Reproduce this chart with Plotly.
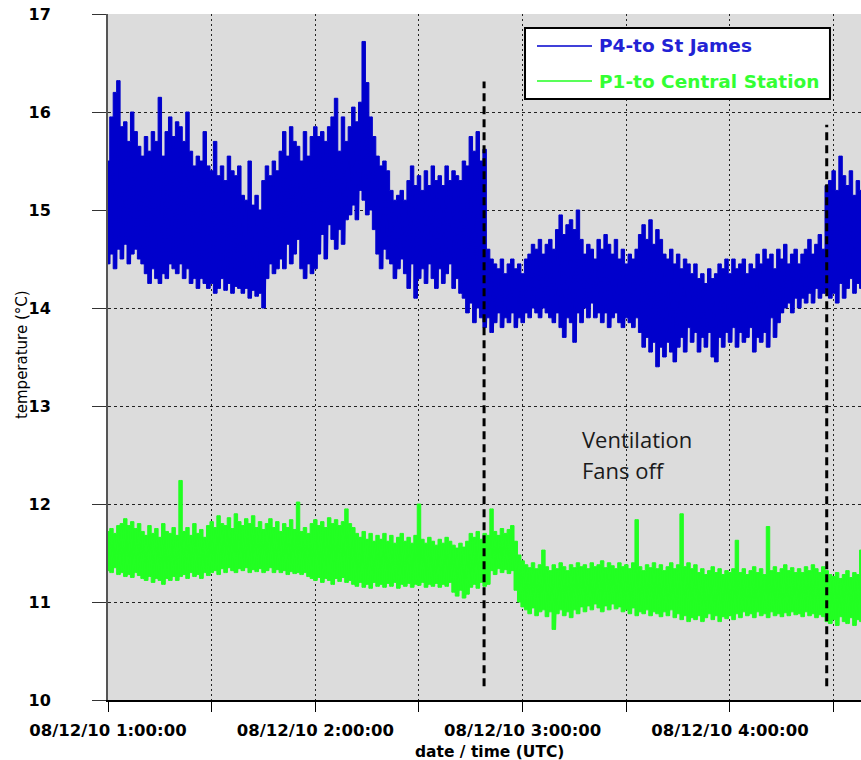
import datetime as dt
import plotly.graph_objects as go

START = dt.datetime(2010, 8, 12, 1, 0, 0)

# Per-minute upper / lower readings of the temperature trace (deg C), from 1:00:00 on
p4_hi = [
    15.50, 15.95, 16.20, 16.32, 15.85, 15.90, 15.70, 16.00, 15.80, 15.65,
    15.55, 15.75, 15.60, 15.80, 15.70, 16.15, 15.55, 15.80, 15.95, 15.75,
    15.90, 15.85, 15.70, 16.00, 15.60, 15.45, 15.55, 15.50, 15.80, 15.45,
    15.40, 15.70, 15.35, 15.45, 15.30, 15.55, 15.40, 15.35, 15.45, 15.15,
    15.10, 15.50, 15.05, 15.15, 15.00, 15.30, 15.45, 15.35, 15.50, 15.40,
    15.60, 15.80, 15.55, 15.85, 15.70, 15.65, 15.50, 15.80, 15.55, 15.75,
    15.85, 15.75, 15.80, 15.70, 15.85, 15.95, 16.14, 15.60, 15.95, 15.70,
    15.85, 16.05, 15.90, 16.10, 16.72, 16.30, 15.95, 15.75, 15.55, 15.45,
    15.50, 15.40, 15.20, 15.10, 15.15, 15.20, 15.10, 15.30, 15.45, 15.25,
    15.35, 15.20, 15.40, 15.25, 15.45, 15.30, 15.35, 15.25, 15.45, 15.30,
    15.40, 15.35, 15.30, 15.50, 15.45, 15.75, 15.60, 15.80, 15.50, 15.62,
    14.60, 14.50, 14.45, 14.40, 14.50, 14.35, 14.45, 14.50, 14.40, 14.45,
    14.35, 14.50, 14.55, 14.65, 14.60, 14.70, 14.55, 14.65, 14.70, 14.60,
    14.80, 14.95, 14.75, 14.85, 14.90, 14.80, 15.00, 14.70, 14.55, 14.65,
    14.60, 14.50, 14.70, 14.60, 14.75, 14.65, 14.55, 14.70, 14.50, 14.60,
    14.45, 14.55, 14.50, 14.60, 14.75, 14.85, 14.70, 14.90, 14.65, 14.80,
    14.70, 14.55, 14.50, 14.60, 14.45, 14.55, 14.40, 14.50, 14.45, 14.35,
    14.45, 14.30, 14.35, 14.25, 14.40, 14.30, 14.35, 14.45, 14.40, 14.50,
    14.35, 14.50, 14.40, 14.45, 14.50, 14.35, 14.45, 14.40, 14.55, 14.45,
    14.60, 14.50, 14.55, 14.40, 14.60, 14.50, 14.65, 14.45, 14.55, 14.60,
    14.45, 14.55, 14.60, 14.70, 14.55, 14.65, 14.75, 14.60, 15.25, 15.30,
    15.40, 15.20, 15.55, 15.35, 15.25, 15.40, 15.15, 15.30, 15.20,
]
p4_lo = [
    14.45, 14.55, 14.40, 14.60, 14.50, 14.65, 14.45, 14.55, 14.60, 14.50,
    14.45, 14.35, 14.25, 14.40, 14.30, 14.25, 14.35, 14.30, 14.45, 14.40,
    14.35, 14.45, 14.30, 14.40, 14.25, 14.30, 14.20, 14.30, 14.25, 14.20,
    14.25, 14.15, 14.20, 14.30, 14.18, 14.25, 14.15, 14.22, 14.20, 14.15,
    14.20, 14.10, 14.18, 14.12, 14.15, 14.00, 14.30, 14.45, 14.35, 14.40,
    14.50, 14.40, 14.65, 14.45, 14.55, 14.70, 14.40, 14.30, 14.45, 14.35,
    14.40, 14.55, 14.75, 14.50, 14.85, 14.70, 14.60, 14.80, 14.65, 14.90,
    14.95, 15.05, 14.90, 15.20, 15.10, 14.95, 15.00, 14.80, 14.55, 14.40,
    14.60, 14.50, 14.45, 14.30, 14.40, 14.50, 14.35, 14.20, 14.45, 14.10,
    14.30, 14.40, 14.25, 14.45, 14.30, 14.20, 14.40, 14.25, 14.35, 14.45,
    14.20, 14.30, 14.15, 14.10, 13.95, 14.05, 13.85, 14.00, 13.90, 13.80,
    13.90, 13.75, 13.85, 13.95, 13.80, 13.90, 13.85, 13.95, 13.80, 13.90,
    13.85, 13.95, 13.90, 14.00, 13.95, 13.90, 14.00, 13.95, 13.90, 13.85,
    13.95, 13.80, 13.70, 13.90, 13.85, 13.65, 13.95, 13.85, 14.00, 13.90,
    14.05, 13.90, 13.95, 13.85, 13.95, 13.80, 13.90, 13.95, 13.85, 13.80,
    13.90, 13.85, 13.80, 13.90, 13.75, 13.60, 13.70, 13.55, 13.65, 13.40,
    13.60, 13.50, 13.65, 13.55, 13.45, 13.60, 13.70, 13.55, 13.80, 13.65,
    13.75, 13.55, 13.70, 13.60, 13.75, 13.50, 13.45, 13.70, 13.60, 13.75,
    13.65, 13.80, 13.60, 13.75, 13.65, 13.70, 13.80, 13.55, 13.70, 13.65,
    13.75, 13.60, 13.90, 13.70, 13.85, 13.95, 14.00, 14.05, 13.95, 14.10,
    14.00, 14.10, 14.05, 14.15, 14.05, 14.20, 14.10, 14.15, 14.20, 14.10,
    14.15, 14.05, 14.25, 14.10, 14.20, 14.30, 14.15, 14.25, 14.20,
]
p1_hi = [
    11.72, 11.75, 11.70, 11.78, 11.80, 11.85, 11.78, 11.82, 11.75, 11.80,
    11.72, 11.68, 11.78, 11.70, 11.75, 11.66, 11.80, 11.72, 11.70, 11.76,
    11.68, 12.24, 11.72, 11.76, 11.68, 11.80, 11.70, 11.74, 11.66, 11.78,
    11.82, 11.76, 11.88, 11.80, 11.78, 11.86, 11.75, 11.90, 11.82, 11.78,
    11.85, 11.80, 11.88, 11.76, 11.82, 11.74, 11.80, 11.85, 11.76, 11.82,
    11.72, 11.80, 11.76, 11.84, 11.74, 12.02, 11.72, 11.76, 11.70, 11.80,
    11.84, 11.78, 11.82, 11.76, 11.86, 11.80, 11.84, 11.78, 11.82, 11.95,
    11.80, 11.76, 11.70, 11.66, 11.72, 11.64, 11.70, 11.62, 11.68, 11.64,
    11.70, 11.62, 11.68, 11.60, 11.66, 11.70, 11.62, 11.66, 11.60, 11.68,
    12.00, 11.64, 11.60, 11.66, 11.62, 11.58, 11.64, 11.60, 11.66, 11.62,
    11.58, 11.55, 11.60, 11.56, 11.62, 11.70, 11.66, 11.72, 11.64, 11.70,
    11.68, 11.95, 11.72, 11.68, 11.75, 11.70, 11.74, 11.78, 11.62, 11.48,
    11.42, 11.38, 11.35, 11.40, 11.34, 11.38, 11.53, 11.36, 11.32, 11.38,
    11.34, 11.40, 11.36, 11.32, 11.38, 11.35, 11.40, 11.36, 11.38, 11.34,
    11.40, 11.36, 11.38, 11.42, 11.35, 11.40, 11.37, 11.34, 11.40, 11.36,
    11.38, 11.34, 11.40, 11.84, 11.36, 11.32, 11.38, 11.35, 11.40, 11.34,
    11.38, 11.32, 11.36, 11.40, 11.34, 11.38, 11.90, 11.36, 11.40, 11.34,
    11.38, 11.30, 11.34, 11.28, 11.32, 11.36, 11.30, 11.34, 11.28, 11.32,
    11.30, 11.34, 11.63, 11.30, 11.34, 11.28, 11.32, 11.36, 11.30, 11.34,
    11.28, 11.77, 11.32, 11.36, 11.30, 11.34, 11.38, 11.32, 11.35, 11.30,
    11.34, 11.30, 11.36, 11.32, 11.38, 11.34, 11.30, 11.36, 11.32, 11.28,
    11.26, 11.30, 11.24, 11.28, 11.32, 11.25, 11.30, 11.28, 11.53,
]
p1_lo = [
    11.32, 11.30, 11.35, 11.28, 11.30, 11.26, 11.28, 11.25, 11.30, 11.27,
    11.24, 11.22, 11.26, 11.20, 11.24, 11.22, 11.18, 11.24, 11.22, 11.26,
    11.22, 11.26, 11.28, 11.24, 11.30, 11.26, 11.28, 11.24, 11.30, 11.27,
    11.30, 11.32, 11.28, 11.34, 11.30, 11.35, 11.32, 11.30, 11.34, 11.32,
    11.35, 11.30, 11.33, 11.31, 11.34, 11.30, 11.32, 11.35, 11.30, 11.33,
    11.30, 11.32, 11.28, 11.31, 11.29, 11.30, 11.28, 11.30, 11.26, 11.24,
    11.22, 11.25, 11.20, 11.24, 11.22, 11.18, 11.24, 11.21, 11.25, 11.20,
    11.22, 11.18, 11.16, 11.20, 11.15, 11.18, 11.14, 11.20, 11.16, 11.18,
    11.15, 11.19, 11.16, 11.20, 11.14, 11.18, 11.16, 11.19, 11.15, 11.18,
    11.17, 11.20, 11.15, 11.18, 11.16, 11.19, 11.15, 11.18, 11.16, 11.20,
    11.10, 11.06, 11.12, 11.04, 11.08, 11.15, 11.18, 11.14, 11.20, 11.16,
    11.18, 11.32, 11.28, 11.34, 11.30, 11.33, 11.29, 11.32, 11.12, 11.00,
    10.95, 10.92, 10.88, 10.94, 10.86, 10.90, 10.92, 10.85, 10.90, 10.72,
    10.88, 10.92, 10.86, 10.90, 10.84, 10.92, 10.88, 10.95, 10.90, 10.96,
    10.92, 10.98, 10.94, 10.90, 10.96, 10.92, 10.98, 10.93, 10.95, 10.90,
    10.92, 10.88, 10.94, 10.86, 10.90, 10.88, 10.92, 10.86, 10.90, 10.88,
    10.85, 10.90, 10.86, 10.92, 10.84, 10.88, 10.82, 10.86, 10.80, 10.84,
    10.82, 10.86, 10.80, 10.84, 10.88, 10.82, 10.86, 10.80, 10.85, 10.83,
    10.86, 10.82, 10.88, 10.84, 10.90, 10.86, 10.88, 10.84, 10.90, 10.86,
    10.88, 10.84, 10.90, 10.86, 10.88, 10.85, 10.89, 10.86, 10.90, 10.87,
    10.88, 10.85, 10.90, 10.86, 10.88, 10.84, 10.87, 10.85, 10.80, 10.78,
    10.82, 10.76, 10.85, 10.80, 10.78, 10.84, 10.76, 10.82, 10.80,
]

series_names = ["P4-to St James", "P1-to Central Station"]
series_colors = ["#0000cc", "#22ff22"]
label_colors = ["#2222d4", "#33ff33"]

# Fan switch-off / switch-on markers
event_times = ["2010-08-12 02:48:50", "2010-08-12 04:28:00"]
event_tops = [16.31, 15.87]
event_bottom = 10.14

tick_times = ["2010-08-12 01:00", "2010-08-12 01:30", "2010-08-12 02:00", "2010-08-12 02:30",
              "2010-08-12 03:00", "2010-08-12 03:30", "2010-08-12 04:00", "2010-08-12 04:30"]
tick_text = ["08/12/10 1:00:00", "", "08/12/10 2:00:00", "", "08/12/10 3:00:00", "",
             "08/12/10 4:00:00", ""]
x_range = ["2010-08-12 01:00:00", "2010-08-12 04:37:55"]


def minute_times(n, offset_s=0):
    return [START + dt.timedelta(minutes=i, seconds=offset_s) for i in range(n)]


def zigzag(hi, lo):
    """Alternate the upper and lower reading of each minute, 30 s apart."""
    xs, ys = [], []
    for t, h, l in zip(minute_times(len(hi)), hi, lo):
        xs += [t, t + dt.timedelta(seconds=30)]
        ys += [h, l]
    return xs, ys


fig = go.Figure()
for (hi, lo), name, color in zip([(p4_hi, p4_lo), (p1_hi, p1_lo)], series_names, series_colors):
    t_min = minute_times(len(hi))
    # solid body of the noisy trace between its minute highs and lows
    fig.add_trace(go.Scatter(x=t_min, y=hi, mode="lines",
                             line=dict(color=color, width=1, shape="hvh"),
                             showlegend=False, hoverinfo="skip"))
    fig.add_trace(go.Scatter(x=t_min, y=lo, mode="lines",
                             line=dict(color=color, width=1, shape="hvh"),
                             fill="tonexty", fillcolor=color, showlegend=False,
                             hoverinfo="skip"))
    xs, ys = zigzag(hi, lo)
    fig.add_trace(go.Scatter(x=xs, y=ys, mode="lines", name=name,
                             line=dict(color=color, width=1.2, simplify=False),
                             showlegend=False))

shapes = []
for t, top in zip(event_times, event_tops):
    shapes.append(dict(type="line", xref="x", yref="y", x0=t, x1=t, y0=event_bottom, y1=top,
                       line=dict(color="black", width=3, dash="8px,5px")))

# Legend box
shapes.append(dict(type="rect", xref="paper", yref="paper", x0=0.5538, x1=0.9588,
                   y0=0.8761, y1=0.9796, fillcolor="white", line=dict(color="black", width=2)))
legend_rows = [0.9534, 0.9023]
annotations = []
for yrow, name, color, lcolor in zip(legend_rows, series_names, series_colors, label_colors):
    shapes.append(dict(type="line", xref="paper", yref="paper", x0=0.5697, x1=0.6428,
                       y0=yrow, y1=yrow, line=dict(color=color, width=1.5)))
    annotations.append(dict(xref="paper", yref="paper", x=0.6500, y=yrow, xanchor="left",
                            yanchor="middle", text=f"<b>{name}</b>", showarrow=False,
                            font=dict(family="DejaVu Sans", size=18.5, color=lcolor)))

annotations += [
    dict(xref="paper", yref="y", x=0.6270, y=12.66, xanchor="left", yanchor="middle",
         text="Ventilation", showarrow=False,
         font=dict(family="Open Sans", size=22, color="#1a1a1a")),
    dict(xref="paper", yref="y", x=0.6270, y=12.35, xanchor="left", yanchor="middle",
         text="Fans off", showarrow=False,
         font=dict(family="Open Sans", size=22, color="#1a1a1a")),
    dict(xref="paper", yref="paper", x=-0.114, y=0.503, textangle=-90, xanchor="center",
         yanchor="middle", text="temperature (°C)", showarrow=False,
         font=dict(family="DejaVu Sans", size=15, color="black")),
    dict(xref="paper", yref="paper", x=0.506, y=-0.0765, xanchor="center", yanchor="middle",
         text="<b>date / time (UTC)</b>", showarrow=False,
         font=dict(family="DejaVu Sans", size=15.5, color="black")),
]

fig.update_layout(
    width=861, height=760,
    margin=dict(l=108, r=0, t=14, b=60),
    paper_bgcolor="white", plot_bgcolor="#dcdcdc",
    shapes=shapes, annotations=annotations,
    showlegend=False,
)
fig.update_xaxes(
    type="date", range=x_range, tickmode="array", tickvals=tick_times, ticktext=tick_text,
    showgrid=True, gridcolor="#222222", gridwidth=1, griddash="2px,3px",
    showline=True, linecolor="black", linewidth=2,
    ticks="outside", ticklen=10, tickcolor="black", tickwidth=1,
    tickfont=dict(family="DejaVu Sans", size=16.5, color="black", weight="bold"),
    ticklabelstandoff=4, zeroline=False,
)
fig.update_yaxes(
    range=[10, 17], dtick=1, tick0=10,
    showgrid=True, gridcolor="#222222", gridwidth=1, griddash="3px,3px",
    showline=True, linecolor="#555555", linewidth=2,
    ticks="outside", ticklen=14, tickcolor="#333333", tickwidth=1,
    tickfont=dict(family="DejaVu Sans", size=16, color="black", weight="bold"),
    ticklabelstandoff=38, zeroline=False,
)

fig.write_html("out.html")
